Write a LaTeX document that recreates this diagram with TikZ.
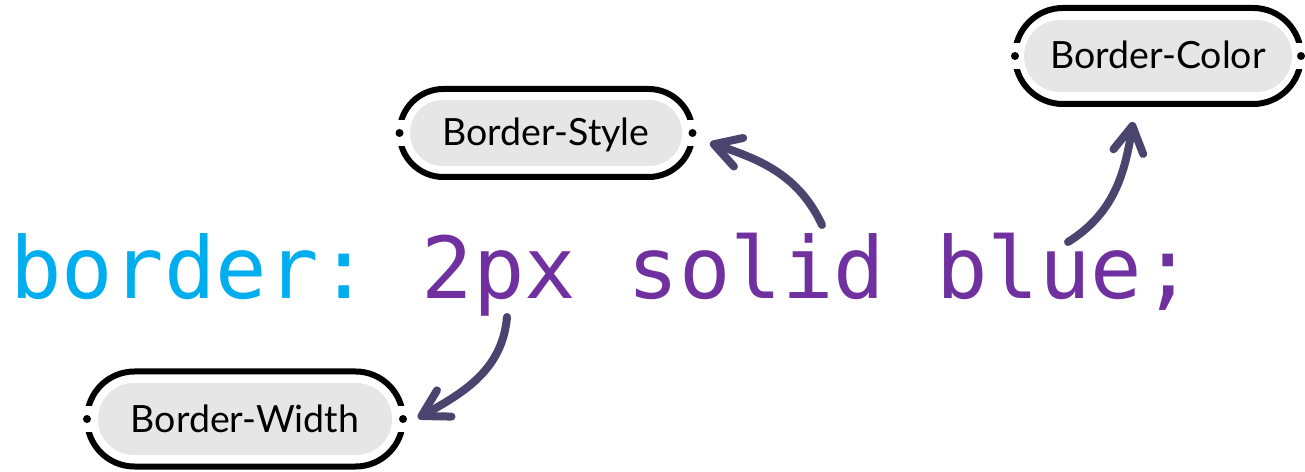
\documentclass[tikz,border=0pt]{standalone}
\usepackage{fontspec}
\newfontfamily\codefont{DejaVu Sans Mono}[WordSpace={1,0,0}]
\newfontfamily\labelfont{Lato}
\usetikzlibrary{arrows.meta,calc}
\definecolor{codeblue}{RGB}{0,174,239}
\definecolor{codepurple}{RGB}{112,48,160}
\definecolor{arrowcol}{RGB}{74,69,110}
\definecolor{pillgray}{RGB}{230,230,230}
\tikzset{
  pillout/.style={draw=black, line width=6pt, inner sep=0pt, outer sep=0pt},
  pillin/.style={fill=pillgray, draw=none, inner sep=0pt, outer sep=0pt,
    font=\labelfont\fontsize{37.5}{40}\selectfont, text height=26pt, text depth=0pt},
  codetext/.style={anchor=base west, inner sep=0pt, outer sep=0pt,
    font=\codefont\fontsize{85.5}{90}\selectfont\frenchspacing},
  linkarrow/.style={draw=arrowcol, line width=8pt, line cap=round,
    -{Straight Barb[length=26pt, width=30pt, round]}},
}
\newcommand{\pillgaps}[1]{%
  \fill[white] ($(#1.west)+(-5,-13)$) rectangle ($(#1.west)+(6,13)$);
  \fill[white] ($(#1.east)+(-6,-13)$) rectangle ($(#1.east)+(5,13)$);
  \fill[black] (#1.west) circle (4);
  \fill[black] (#1.east) circle (4);}
\begin{document}
\begin{tikzpicture}[x=1pt, y=1pt]
\useasboundingbox (0,0) rectangle (1305,471);
% code line
\node[codetext] (code) at (10,172) {\frenchspacing\textcolor{codeblue}{border:} \textcolor{codepurple}{2px solid blue;}};
% Border-Style
\node[pillout, minimum width=293, minimum height=88, rounded corners=43.9] (bs) at (546,338) {};
\pillgaps{bs}
\node[pillin, minimum width=272, minimum height=66, rounded corners=32.9] (bsl) at (bs) {Border-Style};
% Border-Width
\node[pillout, minimum width=316, minimum height=95, rounded corners=47.4] (bw) at (245,52) {};
\pillgaps{bw}
\node[pillin, minimum width=294, minimum height=72, rounded corners=35.9] (bwl) at (bw) {Border-Width};
% Border-Color
\node[pillout, minimum width=286, minimum height=96, rounded corners=47.9] (bc) at (1158,415) {};
\pillgaps{bc}
\node[pillin, minimum width=268, minimum height=72, rounded corners=35.9] (bcl) at (bc) {Border-Color};
% arrow end points
\coordinate (a1s) at (507,154);
\coordinate (a1e) at ($(bw.east)+(15,1)$);
\coordinate (a2s) at (822,246);
\coordinate (a2e) at ($(bs.east)+(17.5,-10)$);
\coordinate (a3s) at (1068,229);
\coordinate (a3e) at ($(bc.south)+(-25,-18)$);
\draw[linkarrow] (a1s) to[out=265, in=29] (a1e);
\draw[linkarrow] (a2s) to[out=115, in=-18] (a2e);
\draw[linkarrow] (a3s) to[out=32, in=-99] (a3e);
\end{tikzpicture}
\end{document}
